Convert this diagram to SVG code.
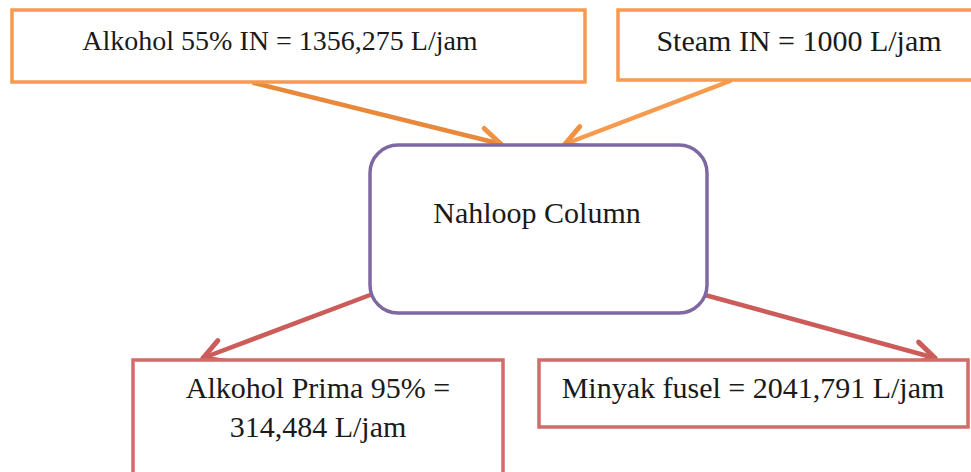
<svg xmlns="http://www.w3.org/2000/svg" width="971" height="472" viewBox="0 0 971 472">
<style>
text{font-family:"Liberation Serif","Times New Roman",serif;font-size:30px;fill:#1a1a1a;text-anchor:middle}
text.small{font-size:28px}
.orange{fill:#fff;stroke:#F79A4E;stroke-width:3.5}
.red{fill:#fff;stroke:#D06C6A;stroke-width:3.5}
.purple{fill:#fff;stroke:#7E68A2;stroke-width:3.5}
.conn{fill:none;stroke-width:4.5;stroke-linecap:round}
</style>
<defs>
<marker id="aO" markerUnits="userSpaceOnUse" markerWidth="32" markerHeight="32" viewBox="-26 -16 32 32" refX="0" refY="0" orient="auto">
<path d="M-20,-11 L0,0 L-20,11" fill="none" stroke="#F0923F" stroke-width="5" stroke-linecap="round" stroke-linejoin="round"/>
</marker>
<marker id="aR" markerUnits="userSpaceOnUse" markerWidth="32" markerHeight="32" viewBox="-26 -16 32 32" refX="0" refY="0" orient="auto">
<path d="M-20,-11 L0,0 L-20,11" fill="none" stroke="#CC5C59" stroke-width="5" stroke-linecap="round" stroke-linejoin="round"/>
</marker>
</defs>
<rect width="971" height="472" fill="#fff"/>
<g id="connectors">
<line class="conn" x1="254" y1="83" x2="501" y2="144" stroke="#E8883A" marker-end="url(#aO)"/>
<line class="conn" x1="730" y1="81" x2="565" y2="144" stroke="#F79A4E" marker-end="url(#aO)"/>
<line class="conn" x1="370" y1="295" x2="203" y2="358" stroke="#CC5C59" marker-end="url(#aR)"/>
<line class="conn" x1="705" y1="295" x2="935" y2="358" stroke="#CC5C59" marker-end="url(#aR)"/>
</g>
<g id="alkohol-in">
<rect class="orange" x="12" y="10" width="573" height="72"/>
<text class="small" x="280" y="50">Alkohol 55% IN = 1356,275 L/jam</text>
</g>
<g id="steam-in">
<rect class="orange" x="618" y="10" width="380" height="70"/>
<text x="799" y="51">Steam IN = 1000 L/jam</text>
</g>
<g id="nahloop">
<rect class="purple" x="370" y="145" width="337" height="168" rx="28" ry="28"/>
<text x="537" y="223">Nahloop Column</text>
</g>
<g id="alkohol-prima">
<rect class="red" x="133" y="360" width="370" height="130"/>
<text x="318" y="398">Alkohol Prima 95% =</text>
<text x="318" y="437">314,484 L/jam</text>
</g>
<g id="minyak-fusel">
<rect class="red" x="539" y="360" width="429" height="67"/>
<text x="753" y="398">Minyak fusel = 2041,791 L/jam</text>
</g>
</svg>
